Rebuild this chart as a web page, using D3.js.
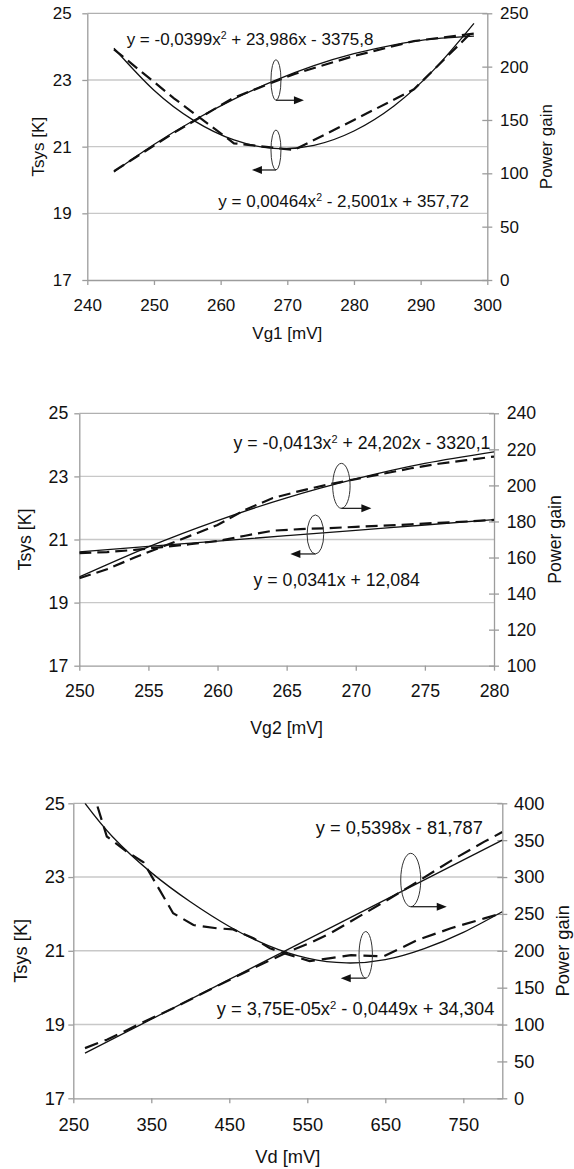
<!DOCTYPE html>
<html>
<head>
<meta charset="utf-8">
<script src="https://cdn.jsdelivr.net/npm/d3@7"></script>
<style>
  body { margin: 0; background: #fff; }
  svg { display: block; }
  text { font-family: "Liberation Sans", Arial, sans-serif; fill: #111; }
</style>
</head>
<body>
<svg id="chart" width="574" height="1169"></svg>
<script>
// ---- values ----
var tsysDomain = [17, 25];
var tsysTicks = [17, 19, 21, 23, 25];
var tsysGrid = [19, 21, 23];

// panel 1 : Vg1
var vg1Ticks = [240, 250, 260, 270, 280, 290, 300];
var gain1Ticks = [0, 50, 100, 150, 200, 250];
var vg1Meas = [244, 253, 262, 271, 280, 289, 298];
var tsys1Meas = [23.92, 22.45, 21.1, 20.9, 21.8, 22.72, 24.5];
var gain1Meas = [102, 138, 171, 193, 210, 224, 231];
var vg1Fit = [244, 250, 256, 262, 268, 274, 280, 286, 292, 298];
var tsys1Fit = [23.95, 22.69, 21.78, 21.2, 20.95, 21.04, 21.47, 22.22, 23.31, 24.7];
var gain1Fit = [101.3, 127, 149.7, 169.6, 186.6, 200.9, 212.1, 220.5, 226.1, 228.7];
var eq1 = ["y = -0,0399x^2 + 23,986x - 3375,8", "y = 0,00464x^2 - 2,5001x + 357,72"];

// panel 2 : Vg2
var vg2Ticks = [250, 255, 260, 265, 270, 275, 280];
var gain2Ticks = [100, 120, 140, 160, 180, 200, 220, 240];
var vg2Meas = [250, 252, 254, 256, 258, 260, 262, 264, 266, 268, 270, 272, 274, 276, 278, 280];
var tsys2Meas = [20.57, 20.6, 20.67, 20.76, 20.85, 20.95, 21.12, 21.28, 21.33, 21.36, 21.4, 21.44, 21.48, 21.53, 21.57, 21.62];
var gain2Meas = [148.5, 153.5, 160, 166, 172, 178, 186.5, 193, 197, 200.5, 203.5, 206.5, 209.5, 212, 214, 216];
var vg2Fit = [250, 255, 260, 265, 270, 275, 280];
var tsys2Fit = [20.61, 20.78, 20.95, 21.12, 21.29, 21.46, 21.63];
var gain2Fit = [149.2, 165.9, 180.5, 193.1, 203.6, 212.2, 218.6];
var eq2 = ["y = -0,0413x^2 + 24,202x - 3320,1", "y = 0,0341x + 12,084"];

// panel 3 : Vd
var vdTicks = [250, 350, 450, 550, 650, 750];
var gain3Ticks = [0, 50, 100, 150, 200, 250, 300, 350, 400];
var vdMeas = [265, 293, 318, 340, 378, 404, 434, 455, 481, 502, 521, 553, 580, 606, 648, 691, 734, 777, 800];
var tsys3Meas = [26.0, 24.1, 23.7, 23.4, 22.02, 21.7, 21.61, 21.58, 21.34, 21.07, 20.93, 20.72, 20.8, 20.88, 20.85, 21.29, 21.61, 21.88, 22.02];
var gain3Meas = [68, 79.5, 92, 103.5, 122, 136, 152, 163, 176.5, 187, 196.5, 210.5, 224, 240, 266, 293.5, 322, 348, 361];
var vdFit = [265, 300, 350, 400, 450, 500, 550, 600, 650, 700, 750, 800];
var tsys3Fit = [25.0, 24.1, 23.12, 22.33, 21.66, 21.14, 20.8, 20.67, 20.76, 21.06, 21.5, 22.06];
var vdFitLin = [265, 800];
var gain3Fit = [61.3, 350.1];
var eq3 = ["y = 0,5398x - 81,787", "y = 3,75E-05x^2 - 0,0449x + 34,304"];

// ---- layout ----
var FONT = '"Liberation Sans", Arial, sans-serif';

var panels = [
  {
    id: 1, left: 87.3, right: 487.3, top: 13.3, bottom: 280, fs: 17,
    labRight: 71.7, labLeft: 500, xLabY: 305, titleY: 333, tsysX: 38, gainX: 546.7,
    xTitle: 'Vg1 [mV]', xDomain: [240, 300], gainDomain: [0, 250],
    xTicks: vg1Ticks, gainTicks: gain1Ticks, dash: '12,6',
    measX: vg1Meas, tsysMeas: tsys1Meas, gainMeas: gain1Meas,
    tFitX: vg1Fit, tsysFit: tsys1Fit, gFitX: vg1Fit, gainFit: gain1Fit,
    eqText: eq1, eqPos: [{ x: 245.9, t: 24.06 }, { x: 259.65, t: 19.18 }],
    rings: [{ x: 268.3, t: 23.0, rx: 5, ry: 20.3, dir: 1, len: 28 },
            { x: 268.3, t: 20.9, rx: 5, ry: 20, dir: -1, len: 24 }]
  },
  {
    id: 2, left: 79.3, right: 494, top: 413.3, bottom: 665.7, fs: 17.7,
    labRight: 68.3, labLeft: 506.7, xLabY: 690.7, titleY: 728, tsysX: 25, gainX: 554.7,
    xTitle: 'Vg2 [mV]', xDomain: [250, 280], gainDomain: [100, 240],
    xTicks: vg2Ticks, gainTicks: gain2Ticks, dash: '12,6',
    measX: vg2Meas, tsysMeas: tsys2Meas, gainMeas: gain2Meas,
    tFitX: vg2Fit, tsysFit: tsys2Fit, gFitX: vg2Fit, gainFit: gain2Fit,
    eqText: eq2, eqPos: [{ x: 261.16, t: 23.87 }, { x: 262.61, t: 19.53 }],
    rings: [{ x: 268.96, t: 22.7, rx: 8.7, ry: 22.5, dir: 1, len: 30 },
            { x: 267.08, t: 21.16, rx: 8.3, ry: 19.5, dir: -1, len: 25 }]
  },
  {
    id: 3, left: 73.3, right: 502.3, top: 803.3, bottom: 1098.3, fs: 18.3,
    labRight: 65, labLeft: 514, xLabY: 1125, titleY: 1156.7, tsysX: 20, gainX: 562.5,
    xTitle: 'Vd [mV]', xDomain: [250, 800], gainDomain: [0, 400],
    xTicks: vdTicks, gainTicks: gain3Ticks, dash: '14,7',
    measX: vdMeas, tsysMeas: tsys3Meas, gainMeas: gain3Meas,
    tFitX: vdFit, tsysFit: tsys3Fit, gFitX: vdFitLin, gainFit: gain3Fit,
    eqText: eq3, eqPos: [{ x: 560.8, t: 24.18 }, { x: 433.8, t: 19.25 }],
    rings: [{ x: 682.6, t: 22.92, rx: 10, ry: 26.7, dir: 1, len: 36 },
            { x: 624.9, t: 20.89, rx: 6.7, ry: 23.3, dir: -1, len: 25 }]
  }
];

var svg = d3.select('#chart');
svg.append('rect').attr('width', 574).attr('height', 1169).attr('fill', '#fff');

function drawPanel(p) {
  var x = d3.scaleLinear().domain(p.xDomain).range([p.left, p.right]);
  var yT = d3.scaleLinear().domain(tsysDomain).range([p.bottom, p.top]);
  var yG = d3.scaleLinear().domain(p.gainDomain).range([p.bottom, p.top]);
  var g = svg.append('g').attr('class', 'panel');

  // gridlines and top border
  g.selectAll('line.grid').data(tsysGrid).enter().append('line')
    .attr('class', 'grid')
    .attr('x1', p.left).attr('x2', p.right)
    .attr('y1', function(d) { return yT(d); })
    .attr('y2', function(d) { return yT(d); })
    .attr('stroke', '#c8c8c8').attr('stroke-width', 1.4);
  g.append('line')
    .attr('x1', p.left).attr('x2', p.right)
    .attr('y1', yT(tsysDomain[1])).attr('y2', yT(tsysDomain[1]))
    .attr('stroke', '#b0b0b0').attr('stroke-width', 1.3);

  // axes
  var axL = g.append('g').attr('transform', 'translate(' + p.left + ',0)')
    .call(d3.axisLeft(yT).tickValues(tsysTicks).tickSizeInner(5).tickSizeOuter(0)
      .tickPadding(p.left - p.labRight - 5));
  var axR = g.append('g').attr('transform', 'translate(' + p.right + ',0)')
    .call(d3.axisRight(yG).tickValues(p.gainTicks).tickSizeInner(5).tickSizeOuter(0)
      .tickPadding(p.labLeft - p.right - 5));
  axR.selectAll('.tick line').attr('x1', -5);
  var axB = g.append('g').attr('transform', 'translate(0,' + p.bottom + ')')
    .call(d3.axisBottom(x).tickValues(p.xTicks).tickSizeInner(5).tickSizeOuter(0)
      .tickPadding(p.xLabY - p.bottom - 5 - 0.355 * p.fs));
  [axL, axR, axB].forEach(function(a) {
    a.attr('font-size', p.fs).attr('font-family', FONT);
    a.selectAll('.domain, .tick line').attr('stroke', '#9c9c9c').attr('stroke-width', 1.3);
    a.selectAll('.tick text').attr('fill', '#111');
  });

  // series, clipped to the plot box
  var clipId = 'clip' + p.id;
  svg.append('clipPath').attr('id', clipId).append('rect')
    .attr('x', p.left).attr('y', p.top)
    .attr('width', p.right - p.left).attr('height', p.bottom - p.top);
  var plot = g.append('g').attr('clip-path', 'url(#' + clipId + ')');

  var series = [
    { xs: p.tFitX, ys: p.tsysFit, y: yT, fit: true },
    { xs: p.gFitX, ys: p.gainFit, y: yG, fit: true },
    { xs: p.measX, ys: p.tsysMeas, y: yT, fit: false },
    { xs: p.measX, ys: p.gainMeas, y: yG, fit: false }
  ];
  series.forEach(function(s) {
    var line = d3.line()
      .x(function(d) { return x(d[0]); })
      .y(function(d) { return s.y(d[1]); })
      .curve(s.fit ? d3.curveNatural : d3.curveLinear);
    plot.append('path')
      .datum(d3.zip(s.xs, s.ys))
      .attr('d', line)
      .attr('fill', 'none')
      .attr('stroke', '#111')
      .attr('stroke-width', s.fit ? 1.3 : 2.2)
      .attr('stroke-dasharray', s.fit ? null : p.dash);
  });

  // ellipse + arrow markers
  p.rings.forEach(function(r) {
    var cx = x(r.x), cy = yT(r.t);
    g.append('ellipse')
      .attr('cx', cx).attr('cy', cy).attr('rx', r.rx).attr('ry', r.ry)
      .attr('fill', 'none').attr('stroke', '#333').attr('stroke-width', 1);
    var y0 = cy + r.ry, x1 = cx + r.dir * r.len;
    g.append('line')
      .attr('x1', cx).attr('y1', y0).attr('x2', x1 - r.dir * 8).attr('y2', y0)
      .attr('stroke', '#222').attr('stroke-width', 1.3);
    g.append('path')
      .attr('d', 'M' + x1 + ',' + y0 +
        'L' + (x1 - r.dir * 10) + ',' + (y0 - 4) +
        'L' + (x1 - r.dir * 10) + ',' + (y0 + 4) + 'Z')
      .attr('fill', '#111');
  });

  // trendline equations
  p.eqPos.forEach(function(e, i) {
    var parts = p.eqText[i].split('^2');
    var t = g.append('text').attr('x', x(e.x)).attr('y', yT(e.t)).attr('font-size', p.fs);
    t.append('tspan').text(parts[0]);
    if (parts.length > 1) {
      t.append('tspan').attr('font-size', p.fs * 0.62).attr('dy', -0.35 * p.fs).text('2');
      t.append('tspan').attr('dy', 0.35 * p.fs).text(parts[1]);
    }
  });

  // axis titles
  g.append('text')
    .attr('x', (p.left + p.right) / 2).attr('y', p.titleY)
    .attr('text-anchor', 'middle').attr('dominant-baseline', 'central')
    .attr('font-size', p.fs).text(p.xTitle);
  g.append('text')
    .attr('transform', 'translate(' + p.tsysX + ',' + (p.top + p.bottom) / 2 + ') rotate(-90)')
    .attr('text-anchor', 'middle').attr('dominant-baseline', 'central')
    .attr('font-size', p.fs).text('Tsys [K]');
  g.append('text')
    .attr('transform', 'translate(' + p.gainX + ',' + (p.top + p.bottom) / 2 + ') rotate(-90)')
    .attr('text-anchor', 'middle').attr('dominant-baseline', 'central')
    .attr('font-size', p.fs).text('Power gain');
}

panels.forEach(drawPanel);
</script>
</body>
</html>
